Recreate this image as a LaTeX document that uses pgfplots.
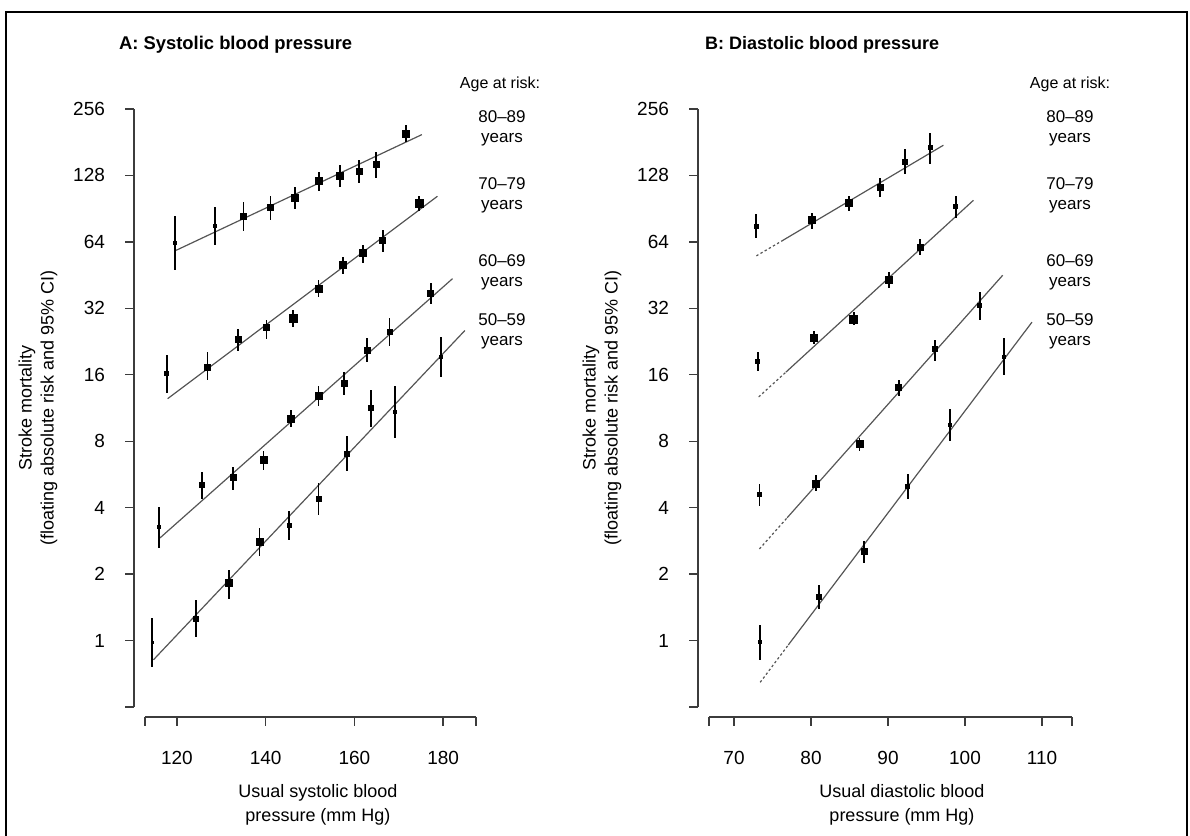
\documentclass[border=0pt]{standalone}
\usepackage{fontspec}
\setmainfont{Liberation Sans}
\usepackage{pgfplots}
\usepackage{pgfplotstable}
\pgfplotsset{compat=1.18}
\definecolor{ln}{RGB}{85,85,85}
\definecolor{ax}{RGB}{60,60,60}

% ---- Panel A data: x, estimate, lower CI, upper CI, half marker size (pt)
\pgfplotstableread{
x y lo hi s
119.5 63.3 47.6 84 0.75
128.5 75.3 61.8 92 0.75
135.0 83.6 72 97 1.5
141.1 91.6 80.6 103 1.5
146.6 101.6 90 113 1.75
152.0 120.9 109 133 1.75
156.75 127 113 142 1.75
161.1 134 118 151 1.5
164.9 143.5 124 163 1.5
171.6 198 181 217 1.75
}\Aeighty
\pgfplotstableread{
x y lo hi s
117.7 16.2 13.2 19.6 1.0
126.9 17.35 15.1 20.3 1.5
133.8 23.2 20.6 25.9 1.5
140.2 26.2 23.3 28.2 1.5
146.2 28.9 26.3 31.6 2.0
151.9 39.3 36 42.8 1.75
157.4 50.1 45.9 54.6 1.75
162.0 57 51.6 62 1.75
166.4 65.1 57.6 72.8 1.5
174.6 95.5 88.5 103 2.0
}\Aseventy
\pgfplotstableread{
x y lo hi s
116.0 3.26 2.63 4.02 0.75
125.7 5.08 4.39 5.79 1.25
132.7 5.5 4.82 6.1 1.5
139.5 6.6 5.9 7.26 1.75
145.7 10.1 9.27 11.1 1.75
151.9 12.9 11.6 14.3 1.75
157.7 14.7 13 16.5 1.5
162.9 20.6 18.2 23.6 1.5
167.9 25 21.5 29 1.25
177.2 37.3 33.4 41.7 1.5
}\Asixty
\pgfplotstableread{
x y lo hi s
114.4 0.976 0.757 1.26 0.5
124.3 1.25 1.04 1.52 1.25
131.7 1.83 1.55 2.09 1.75
138.6 2.79 2.41 3.23 1.75
145.3 3.32 2.84 3.85 1.0
151.9 4.39 3.72 5.19 1.25
158.3 7.03 5.84 8.42 1.25
163.7 11.35 9.27 13.6 1.25
169.2 10.9 8.3 14.3 0.75
179.5 19.25 15.7 23.7 0.75
}\Afifty
% ---- Panel B data
\pgfplotstableread{
x y lo hi s
72.9 75.3 66.6 85.4 1.0
80.1 80.2 73.5 86.5 1.75
84.9 96.1 88.3 103 1.75
89.0 113.5 102 124 1.5
92.25 147 130.5 168 1.25
95.5 171 144 199.5 1.0
}\Beighty
\pgfplotstableread{
x y lo hi s
73.1 18.4 16.6 20.3 1.0
80.4 23.6 22 25.3 1.75
85.55 28.6 26.8 30.8 2.0
90.1 43.2 39.7 46.8 1.75
94.2 60.7 55.7 66.3 1.5
98.8 92.2 82.5 103 1.0
}\Bseventy
\pgfplotstableread{
x y lo hi s
73.3 4.58 4.05 5.13 1.0
80.65 5.13 4.74 5.6 1.75
86.3 7.79 7.26 8.3 1.75
91.4 14.0 12.8 15.2 1.5
96.1 20.9 18.5 23.1 1.25
101.9 33.0 28.4 37.9 1.0
}\Bsixty
\pgfplotstableread{
x y lo hi s
73.4 0.983 0.82 1.18 0.75
81.0 1.57 1.39 1.79 1.25
86.9 2.53 2.24 2.82 1.5
92.55 4.99 4.39 5.66 1.0
98.05 9.5 8.06 11.2 0.75
105.1 19.25 16 23.6 0.75
}\Bfifty

\newcommand{\pts}[1]{%
  \addplot[black, only marks, mark=square*, scatter,
    scatter/use mapped color={draw=black, fill=black},
    visualization depends on={\thisrow{s} \as \ms},
    scatter/@pre marker code/.append style={/tikz/mark size=\ms},
    error bars/y dir=both, error bars/y explicit, error bars/error mark=none,
    error bars/error bar style={line width=0.9pt, black}]
  table[x=x, y=y, y error plus expr=\thisrow{hi}-\thisrow{y}, y error minus expr=\thisrow{y}-\thisrow{lo}] {#1};}
\newcommand{\fitline}[4]{\addplot[ln, line width=0.6pt, no marks] coordinates {(#1,#2) (#3,#4)};}
\newcommand{\fitdot}[4]{\addplot[ln, line width=0.6pt, no marks, dash pattern=on 1.2pt off 1.2pt] coordinates {(#1,#2) (#3,#4)};}

\begin{document}
\begin{tikzpicture}
\path[use as bounding box] (0,0) rectangle (595pt,418pt);

% Panel A
\begin{axis}[at={(72.5pt,64.5pt)}, anchor=south west, width=165.5pt,
    scale only axis, height=299pt,
    ymode=log, log basis y=2,
    ymin=0.5, ymax=256,
    ytick={0.5,1,2,4,8,16,32,64,128,256},
    yticklabels={,1,2,4,8,16,32,64,128,256},
    axis x line*=bottom, axis y line*=left,
    axis line style={-, draw=ax, line width=0.7pt},
    x axis line style={yshift=-5pt},
    y axis line style={xshift=-5.5pt},
    tick align=outside, major tick length=4.5pt,
    tick style={draw=ax, line width=0.7pt},
    xtick style={yshift=-5pt},
    ytick style={xshift=-5.5pt},
    xticklabel style={yshift=-14pt, font=\fontsize{9.5}{11}\selectfont},
    yticklabel style={xshift=-12pt, font=\fontsize{9.5}{11}\selectfont},
    clip=false,
  xmin=112.8, xmax=187.4,
  xtick={112.8,120,140,160,180,187.4},
  xticklabels={,120,140,160,180,}]
\fitline{119.8}{58.6}{175.2}{196}
\fitline{117.9}{12.47}{178.7}{103}
\fitline{116.2}{2.92}{182.1}{43.6}
\fitline{114.7}{0.818}{184.9}{25.4}
\pts{\Aeighty}
\pts{\Aseventy}
\pts{\Asixty}
\pts{\Afifty}
\end{axis}

% Panel B
\begin{axis}[at={(354.5pt,64.5pt)}, anchor=south west, width=181.5pt,
    scale only axis, height=299pt,
    ymode=log, log basis y=2,
    ymin=0.5, ymax=256,
    ytick={0.5,1,2,4,8,16,32,64,128,256},
    yticklabels={,1,2,4,8,16,32,64,128,256},
    axis x line*=bottom, axis y line*=left,
    axis line style={-, draw=ax, line width=0.7pt},
    x axis line style={yshift=-5pt},
    y axis line style={xshift=-5.5pt},
    tick align=outside, major tick length=4.5pt,
    tick style={draw=ax, line width=0.7pt},
    xtick style={yshift=-5pt},
    ytick style={xshift=-5.5pt},
    xticklabel style={yshift=-14pt, font=\fontsize{9.5}{11}\selectfont},
    yticklabel style={xshift=-12pt, font=\fontsize{9.5}{11}\selectfont},
    clip=false,
  xmin=66.75, xmax=113.9,
  xtick={66.75,70,80,90,100,110,113.9},
  xticklabels={,70,80,90,100,110,}]
\fitdot{72.9}{55.3}{76.2}{64.6}
\fitline{76.2}{64.6}{97.2}{175.5}
\fitdot{73.2}{12.7}{76.75}{16.46}
\fitline{76.75}{16.46}{101.1}{98.8}
\fitdot{73.3}{2.6}{76.9}{3.6}
\fitline{76.9}{3.6}{104.9}{45.2}
\fitdot{73.4}{0.647}{77.05}{0.955}
\fitline{77.05}{0.955}{108.7}{27.7}
\pts{\Beighty}
\pts{\Bseventy}
\pts{\Bsixty}
\pts{\Bfifty}
\end{axis}

% Annotations (pixel grid of the reference)
\begin{scope}[x=0.5pt, y=-0.5pt, yshift=418pt]
\draw[line width=1pt] (6,840) -- (6,12) -- (1187,12) -- (1187,840);
\node[anchor=west, font=\fontsize{9.2}{10}\selectfont\bfseries] at (112,45) {A: Systolic blood pressure};
\node[anchor=west, font=\fontsize{9}{10}\selectfont\bfseries] at (698,45) {B: Diastolic blood pressure};
\node[font=\fontsize{8}{10}\selectfont] at (500,84) {Age at risk:};
\node[font=\fontsize{8}{10}\selectfont] at (1070,84) {Age at risk:};
\foreach \cx in {502,1070}{
  \node[align=center, font=\fontsize{8.5}{10}\selectfont] at (\cx,128) {80--89\\years};
  \node[align=center, font=\fontsize{8.5}{10}\selectfont] at (\cx,195) {70--79\\years};
  \node[align=center, font=\fontsize{8.5}{10}\selectfont] at (\cx,272) {60--69\\years};
  \node[align=center, font=\fontsize{8.5}{10}\selectfont] at (\cx,331) {50--59\\years};
}
\node[rotate=90, align=center, font=\fontsize{9}{11}\selectfont] at (38,408) {Stroke mortality\\(floating absolute risk and 95\% CI)};
\node[rotate=90, align=center, font=\fontsize{9}{11}\selectfont] at (602,408) {Stroke mortality\\(floating absolute risk and 95\% CI)};
\node[align=center, font=\fontsize{9}{12}\selectfont] at (318,805) {Usual systolic blood\\pressure (mm Hg)};
\node[align=center, font=\fontsize{9}{12}\selectfont] at (902,805) {Usual diastolic blood\\pressure (mm Hg)};
\end{scope}
\end{tikzpicture}
\end{document}
